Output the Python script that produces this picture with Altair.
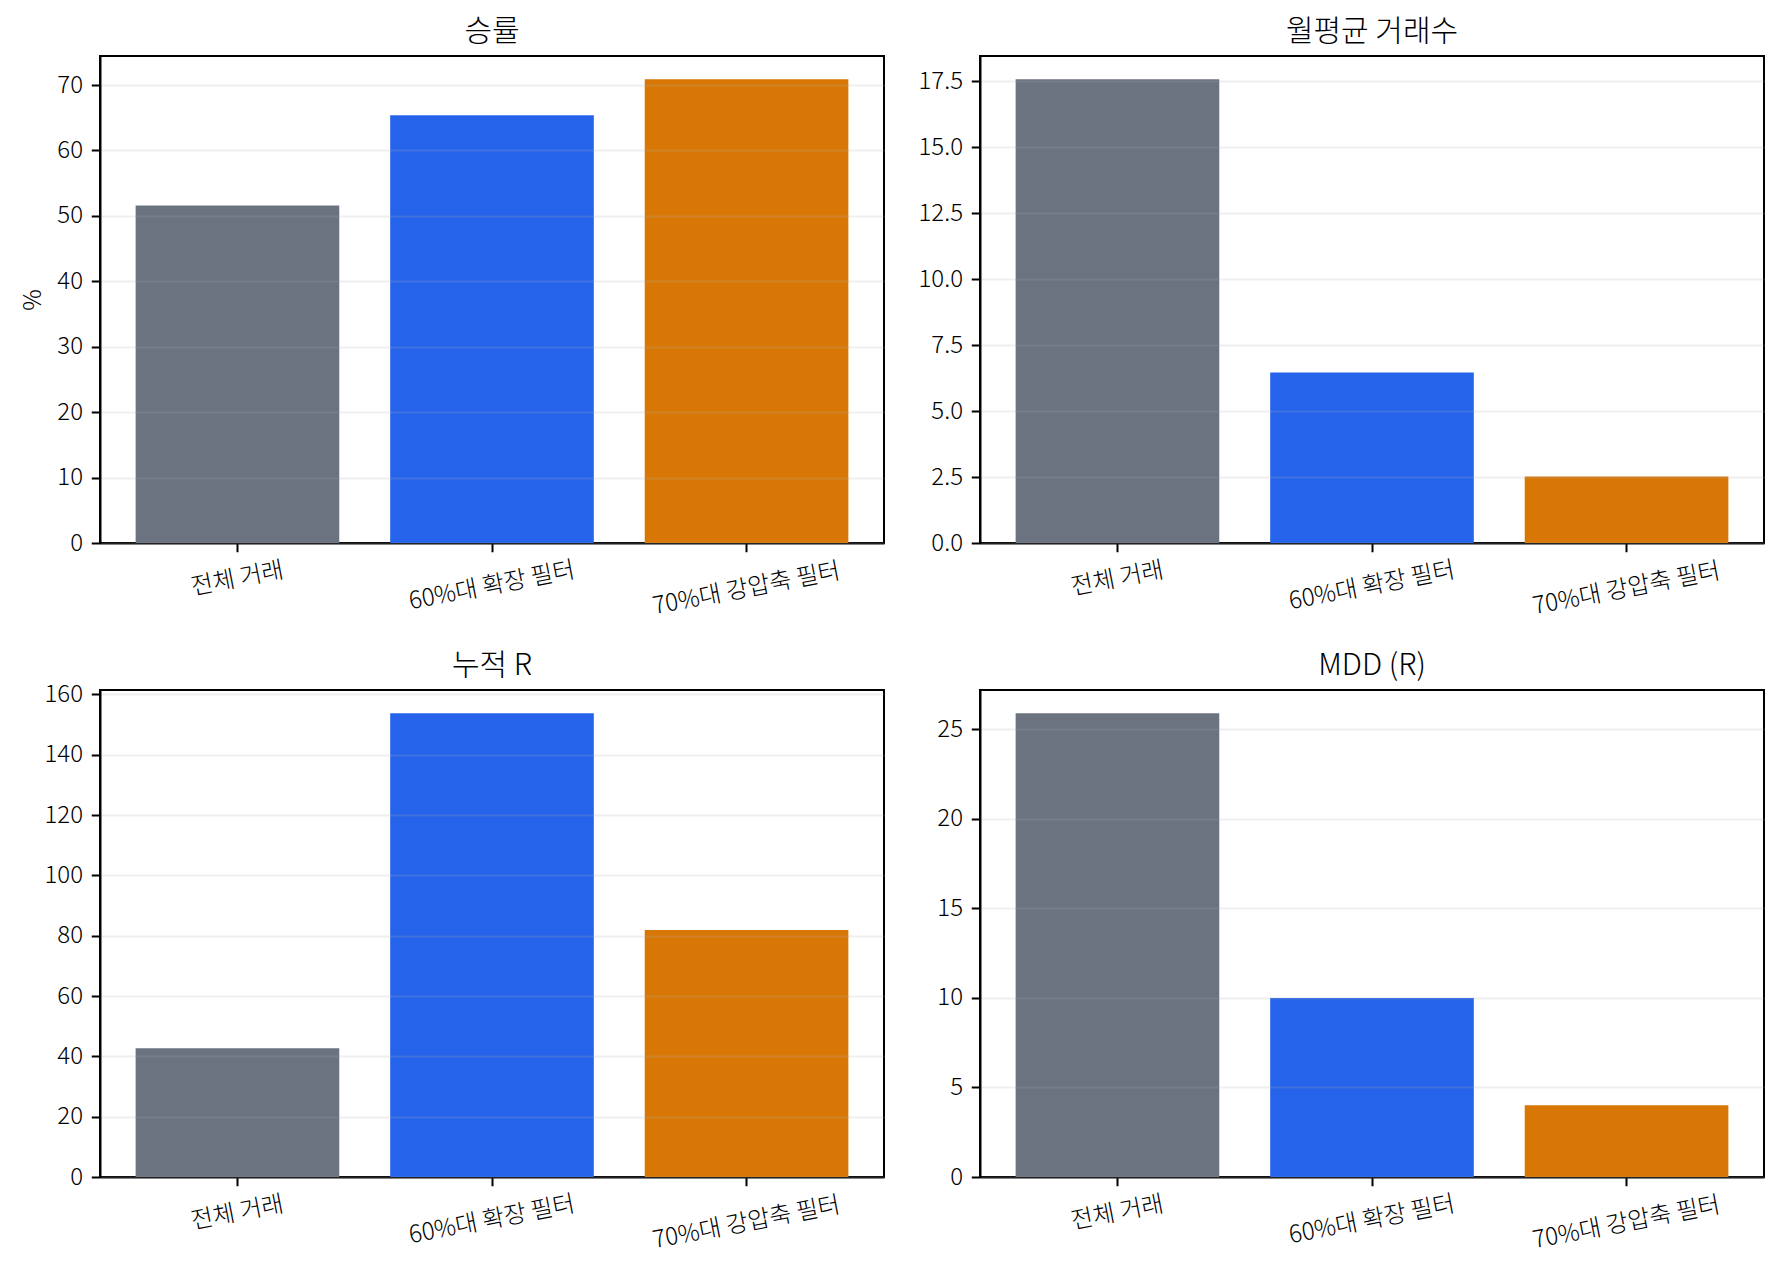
import altair as alt
import pandas as pd

FONT = "Noto Sans CJK KR"

groups = ["전체 거래", "60%대 확장 필터", "70%대 강압축 필터"]
colors = ["#6b7280", "#2563eb", "#d97706"]

win_rate = [51.6, 65.4, 70.9]
monthly_trades = [17.57, 6.46, 2.52]
cum_r = [42.7, 153.8, 81.9]
mdd = [25.9, 10.0, 4.0]

win_ticks = [0, 10, 20, 30, 40, 50, 60, 70]
trade_ticks = [0, 2.5, 5, 7.5, 10, 12.5, 15, 17.5]
cum_ticks = [0, 20, 40, 60, 80, 100, 120, 140, 160]
mdd_ticks = [0, 5, 10, 15, 20, 25]

# rotated labels: matplotlib aligns their box tops, so longer ones sit lower
x_label_pad = {
    "condition": [
        {"test": "datum.value === '전체 거래'", "value": 27},
        {"test": "datum.value === '60%대 확장 필터'", "value": 34},
    ],
    "value": 37,
}


def panel(values, title, ticks, fmt, ytitle=None, title_offset=9):
    df = pd.DataFrame({"group": groups, "value": values})
    top = max(values) * 1.05
    return alt.Chart(df).mark_bar().encode(
        x=alt.X("group:N", sort=groups, title=None,
                scale=alt.Scale(paddingInner=0.2, paddingOuter=0.14),
                axis=alt.Axis(labelAngle=349, labelAlign="center", labelLimit=400,
                              labelBaseline="middle", labelPadding=x_label_pad)),
        y=alt.Y("value:Q", title=ytitle,
                scale=alt.Scale(domain=[0, top], nice=False, zero=True),
                axis=alt.Axis(values=ticks, format=fmt, grid=True, zindex=1)),
        color=alt.Color("group:N", scale=alt.Scale(domain=groups, range=colors), legend=None),
    ).properties(
        width=784, height=487,
        title=alt.TitleParams(title, font=FONT, fontSize=30, fontWeight=300,
                              color="black", offset=title_offset),
    )


chart = alt.concat(
    panel(win_rate, "승률", win_ticks, "d", ytitle="%"),
    panel(monthly_trades, "월평균 거래수", trade_ticks, ".1f"),
    # the "160" label pokes above the frame, so this title needs less offset
    panel(cum_r, "누적 R", cum_ticks, "d", title_offset=1),
    panel(mdd, "MDD (R)", mdd_ticks, "d"),
    columns=2,
    spacing={"row": 147, "column": 96},
    bounds="flush",
).properties(
    padding={"left": 12, "top": 8, "right": 5, "bottom": 5},
    background="white",
).configure_view(
    stroke="black", strokeWidth=2
).configure_axis(
    labelFont=FONT, labelFontSize=24, labelFontWeight=300, labelColor="black",
    titleFont=FONT, titleFontSize=24, titleFontWeight=300, titleColor="black",
    titlePadding=11,
    domainColor="black", domainWidth=2,
    tickColor="black", tickWidth=2, tickSize=8.75,
    labelPadding=8.75,
    gridColor="#b0b0b0", gridOpacity=0.2, gridWidth=2,
).configure_axisX(
    grid=False
)

chart.save("out.html", embed_options={"renderer": "svg", "actions": False})
